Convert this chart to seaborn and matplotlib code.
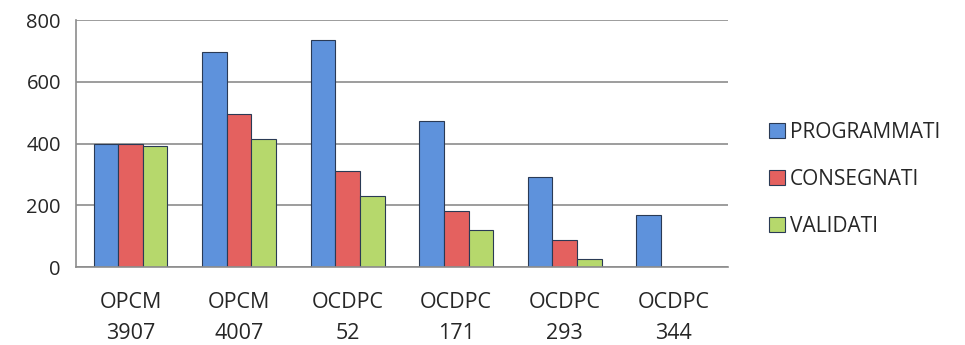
import numpy as np
import pandas as pd
import seaborn as sns
import matplotlib.pyplot as plt

categories = ['OPCM\n3907', 'OPCM\n4007', 'OCDPC\n52', 'OCDPC\n171', 'OCDPC\n293', 'OCDPC\n344']
programmati = [400, 695, 734, 472, 292, 168]
consegnati = [398, 495, 310, 181, 88, 0]
validati = [392, 414, 230, 120, 26, 0]
series = ['PROGRAMMATI', 'CONSEGNATI', 'VALIDATI']
colors = ['#5e92dc', '#e4615f', '#b6d86c']

df = pd.DataFrame({'categoria': categories * 3,
                   'valore': programmati + consegnati + validati,
                   'serie': np.repeat(series, len(categories))})

sns.set_style('white')
plt.rcParams['font.family'] = ['Open Sans', 'DejaVu Sans']

fig = plt.figure(figsize=(9.65, 3.45), dpi=100)
ax = fig.add_axes([0.079, 0.226, 0.675, 0.716])

sns.barplot(data=df, x='categoria', y='valore', hue='serie', palette=colors,
            saturation=1, width=0.68, gap=0, edgecolor='#2a3a55', linewidth=0.8, ax=ax)

ax.set_ylim(0, 800)
ax.set_xlim(-0.5, len(categories) - 0.5)
ax.set_yticks([0, 200, 400, 600, 800])
ax.yaxis.grid(True, color='#8c8c8c', linewidth=1.2)
ax.set_axisbelow(True)
ax.set_xlabel('')
ax.set_ylabel('')
for s in ['top', 'right']:
    ax.spines[s].set_visible(False)
for s in ['left', 'bottom']:
    ax.spines[s].set_color('#8c8c8c')
    ax.spines[s].set_linewidth(1.2)

ax.set_xticks(np.arange(len(categories)))
ax.set_xticklabels(categories, linespacing=1.6)
ax.set_xticks(np.arange(len(categories) + 1) - 0.5, minor=True)
ax.tick_params(axis='x', which='major', length=0, labelsize=15.5, pad=18)
ax.tick_params(axis='x', which='minor', length=7, color='#8c8c8c', width=1.2, direction='out')
ax.tick_params(axis='y', length=7, color='#8c8c8c', width=1.2, direction='out', labelsize=14.5, pad=4)

handles, labels = ax.get_legend_handles_labels()
ax.legend_.remove()
fig.legend(handles, labels, loc='center left', bbox_to_anchor=(0.797, 0.481),
           frameon=False, fontsize=15, handlelength=0.75, handleheight=0.75,
           handletextpad=0.25, labelspacing=1.25, borderpad=0, borderaxespad=0)

fig.savefig('out.png', dpi=100)
